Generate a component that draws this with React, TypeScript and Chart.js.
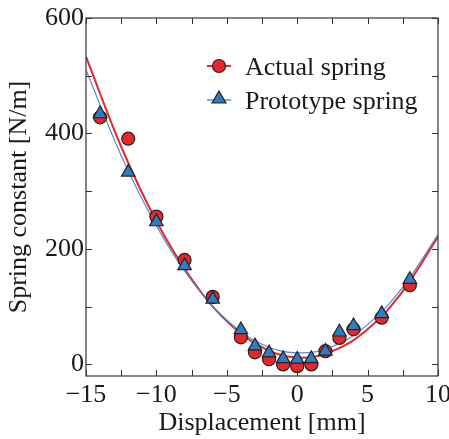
import React, { useEffect, useRef } from 'react';
import { Chart, registerables } from 'chart.js';

Chart.register(...registerables);

const FONT = '"Liberation Serif", "Times New Roman", serif';

// measured points
const pointX = [-14, -12, -10, -8, -6, -4, -3, -2, -1, 0, 1, 2, 3, 4, 6, 8];
const actualValues = [428, 391, 256, 181, 117, 47, 21, 9, 0, -3, 0, 23, 46, 61, 81, 137];
const prototypeValues = [434, 333, 247, 171, 113, 60, 32, 20, 10, 9, 10, 23, 56, 67, 88, 147];

// fitted curves
const fitX = [-15, -12.5, -10, -7.5, -5, -2.5, 0, 2.5, 5, 7.5, 10];
const actualFit = [533, 377, 248, 148, 75, 30, 12, 23, 61, 127, 221];
const prototypeFit = [510, 362, 240, 145, 77, 35, 20, 31, 69, 134, 225];

const seriesNames = ['Actual spring', 'Prototype spring'];
const xTitle = 'Displacement [mm]';
const yTitle = 'Spring constant [N/m]';

const RED = '#e8262c';
const BLUE = '#2f7cc3';
const EDGE = '#222222';
const AXIS = '#333333';

function fmt(v: number): string {
  return v < 0 ? '\u2212' + Math.abs(v) : String(v);
}

const framePlugin = {
  id: 'frameTicks',
  afterDraw(chart: any) {
    const { ctx, chartArea: a } = chart;
    const xs = chart.scales.x;
    const ys = chart.scales.y;
    ctx.save();
    ctx.strokeStyle = AXIS;
    ctx.lineWidth = 1.2;
    ctx.strokeRect(a.left, a.top, a.right - a.left, a.bottom - a.top);
    const L = 6;
    ctx.lineWidth = 1;
    ctx.beginPath();
    xs.ticks.forEach((t: any) => {
      const p = Math.round(xs.getPixelForValue(t.value)) + 0.5;
      ctx.moveTo(p, a.bottom);
      ctx.lineTo(p, a.bottom - L);
      ctx.moveTo(p, a.top);
      ctx.lineTo(p, a.top + L);
    });
    ys.ticks.forEach((t: any) => {
      if (Math.abs(t.value % 100) > 1e-6) return;
      const p = Math.round(ys.getPixelForValue(t.value)) + 0.5;
      ctx.moveTo(a.left, p);
      ctx.lineTo(a.left + L, p);
      ctx.moveTo(a.right, p);
      ctx.lineTo(a.right - L, p);
    });
    ctx.stroke();

    // legend
    const lx0 = 207;
    const lx1 = 231;
    const mx = 219;
    const rows = [
      { y: 66, color: RED, shape: 'circle', w: 2 },
      { y: 100, color: BLUE, shape: 'triangle', w: 1.2 },
    ];
    rows.forEach((r, i) => {
      ctx.strokeStyle = r.color;
      ctx.lineWidth = r.w;
      ctx.beginPath();
      ctx.moveTo(lx0, r.y);
      ctx.lineTo(lx1, r.y);
      ctx.stroke();
      ctx.fillStyle = r.color;
      ctx.strokeStyle = EDGE;
      ctx.lineWidth = 1.2;
      ctx.beginPath();
      if (r.shape === 'circle') {
        ctx.arc(mx, r.y, 6.5, 0, Math.PI * 2);
      } else {
        const rad = 8;
        const cy = r.y - 1;
        ctx.moveTo(mx, cy - rad);
        ctx.lineTo(mx + 0.866 * rad, cy + 0.5 * rad);
        ctx.lineTo(mx - 0.866 * rad, cy + 0.5 * rad);
        ctx.closePath();
      }
      ctx.fill();
      ctx.stroke();
      ctx.fillStyle = '#1a1a1a';
      ctx.font = '26px ' + FONT;
      ctx.textAlign = 'left';
      ctx.textBaseline = 'middle';
      ctx.fillText(seriesNames[i], 245, r.y + 2);
    });
    ctx.restore();
  },
};

export default function App() {
  const ref = useRef<HTMLCanvasElement | null>(null);
  useEffect(() => {
    document.body.style.margin = '0';
    const canvas = ref.current;
    if (!canvas) return;
    const chart = new Chart(canvas, {
      type: 'scatter',
      data: {
        datasets: [
          {
            label: seriesNames[1],
            data: pointX.map((x, i) => ({ x, y: prototypeValues[i] })),
            pointStyle: 'triangle',
            pointRadius: 7.8,
            backgroundColor: BLUE,
            borderColor: EDGE,
            borderWidth: 1.2,
            showLine: false,
            order: 0,
          },
          {
            label: seriesNames[0],
            data: pointX.map((x, i) => ({ x, y: actualValues[i] })),
            pointStyle: 'circle',
            pointRadius: 6.5,
            backgroundColor: RED,
            borderColor: EDGE,
            borderWidth: 1.2,
            showLine: false,
            order: 1,
          },
          {
            label: seriesNames[1] + ' fit',
            data: fitX.map((x, i) => ({ x, y: prototypeFit[i] })),
            showLine: true,
            borderColor: '#4a8fd6',
            borderWidth: 1.2,
            pointRadius: 0,
            tension: 0.4,
            order: 2,
          },
          {
            label: seriesNames[0] + ' fit',
            data: fitX.map((x, i) => ({ x, y: actualFit[i] })),
            showLine: true,
            borderColor: RED,
            borderWidth: 2,
            pointRadius: 0,
            tension: 0.4,
            order: 3,
          },
        ],
      },
      options: {
        responsive: false,
        animation: false,
        devicePixelRatio: 1,
        layout: { padding: { left: 0, right: 11, top: 18, bottom: 0 } },
        plugins: {
          legend: { display: false },
          tooltip: { enabled: false },
        },
        scales: {
          x: {
            type: 'linear',
            min: -15,
            max: 10,
            grid: { display: false, drawTicks: false },
            border: { display: false },
            ticks: {
              stepSize: 2.5,
              autoSkip: false,
              maxRotation: 0,
              padding: 4,
              color: '#1a1a1a',
              font: { family: FONT, size: 26 },
              callback: (v: any) => (Number(v) % 5 === 0 ? fmt(Number(v)) : ''),
            },
            title: {
              display: true,
              text: xTitle,
              color: '#1a1a1a',
              font: { family: FONT, size: 26 },
              padding: { top: 0, bottom: 0 },
            },
            afterFit: (s: any) => {
              s.height = 63;
              s.paddingLeft = 0;
              s.paddingRight = 0;
            },
          },
          y: {
            type: 'linear',
            min: -20,
            max: 600,
            grid: { display: false, drawTicks: false },
            border: { display: false },
            ticks: {
              stepSize: 100,
              includeBounds: false,
              autoSkip: false,
              padding: 2,
              color: '#1a1a1a',
              font: { family: FONT, size: 26 },
              callback: (v: any) => (Number(v) % 200 === 0 ? fmt(Number(v)) : ''),
            },
            title: {
              display: true,
              text: yTitle,
              color: '#1a1a1a',
              font: { family: FONT, size: 26 },
              padding: { top: 4, bottom: 4 },
            },
            afterFit: (s: any) => {
              s.width = 86;
              s.paddingTop = 0;
              s.paddingBottom = 0;
            },
          },
        },
      },
      plugins: [framePlugin],
    });
    return () => chart.destroy();
  }, []);
  return <canvas ref={ref} width={449} height={439} style={{ display: 'block' }} />;
}
